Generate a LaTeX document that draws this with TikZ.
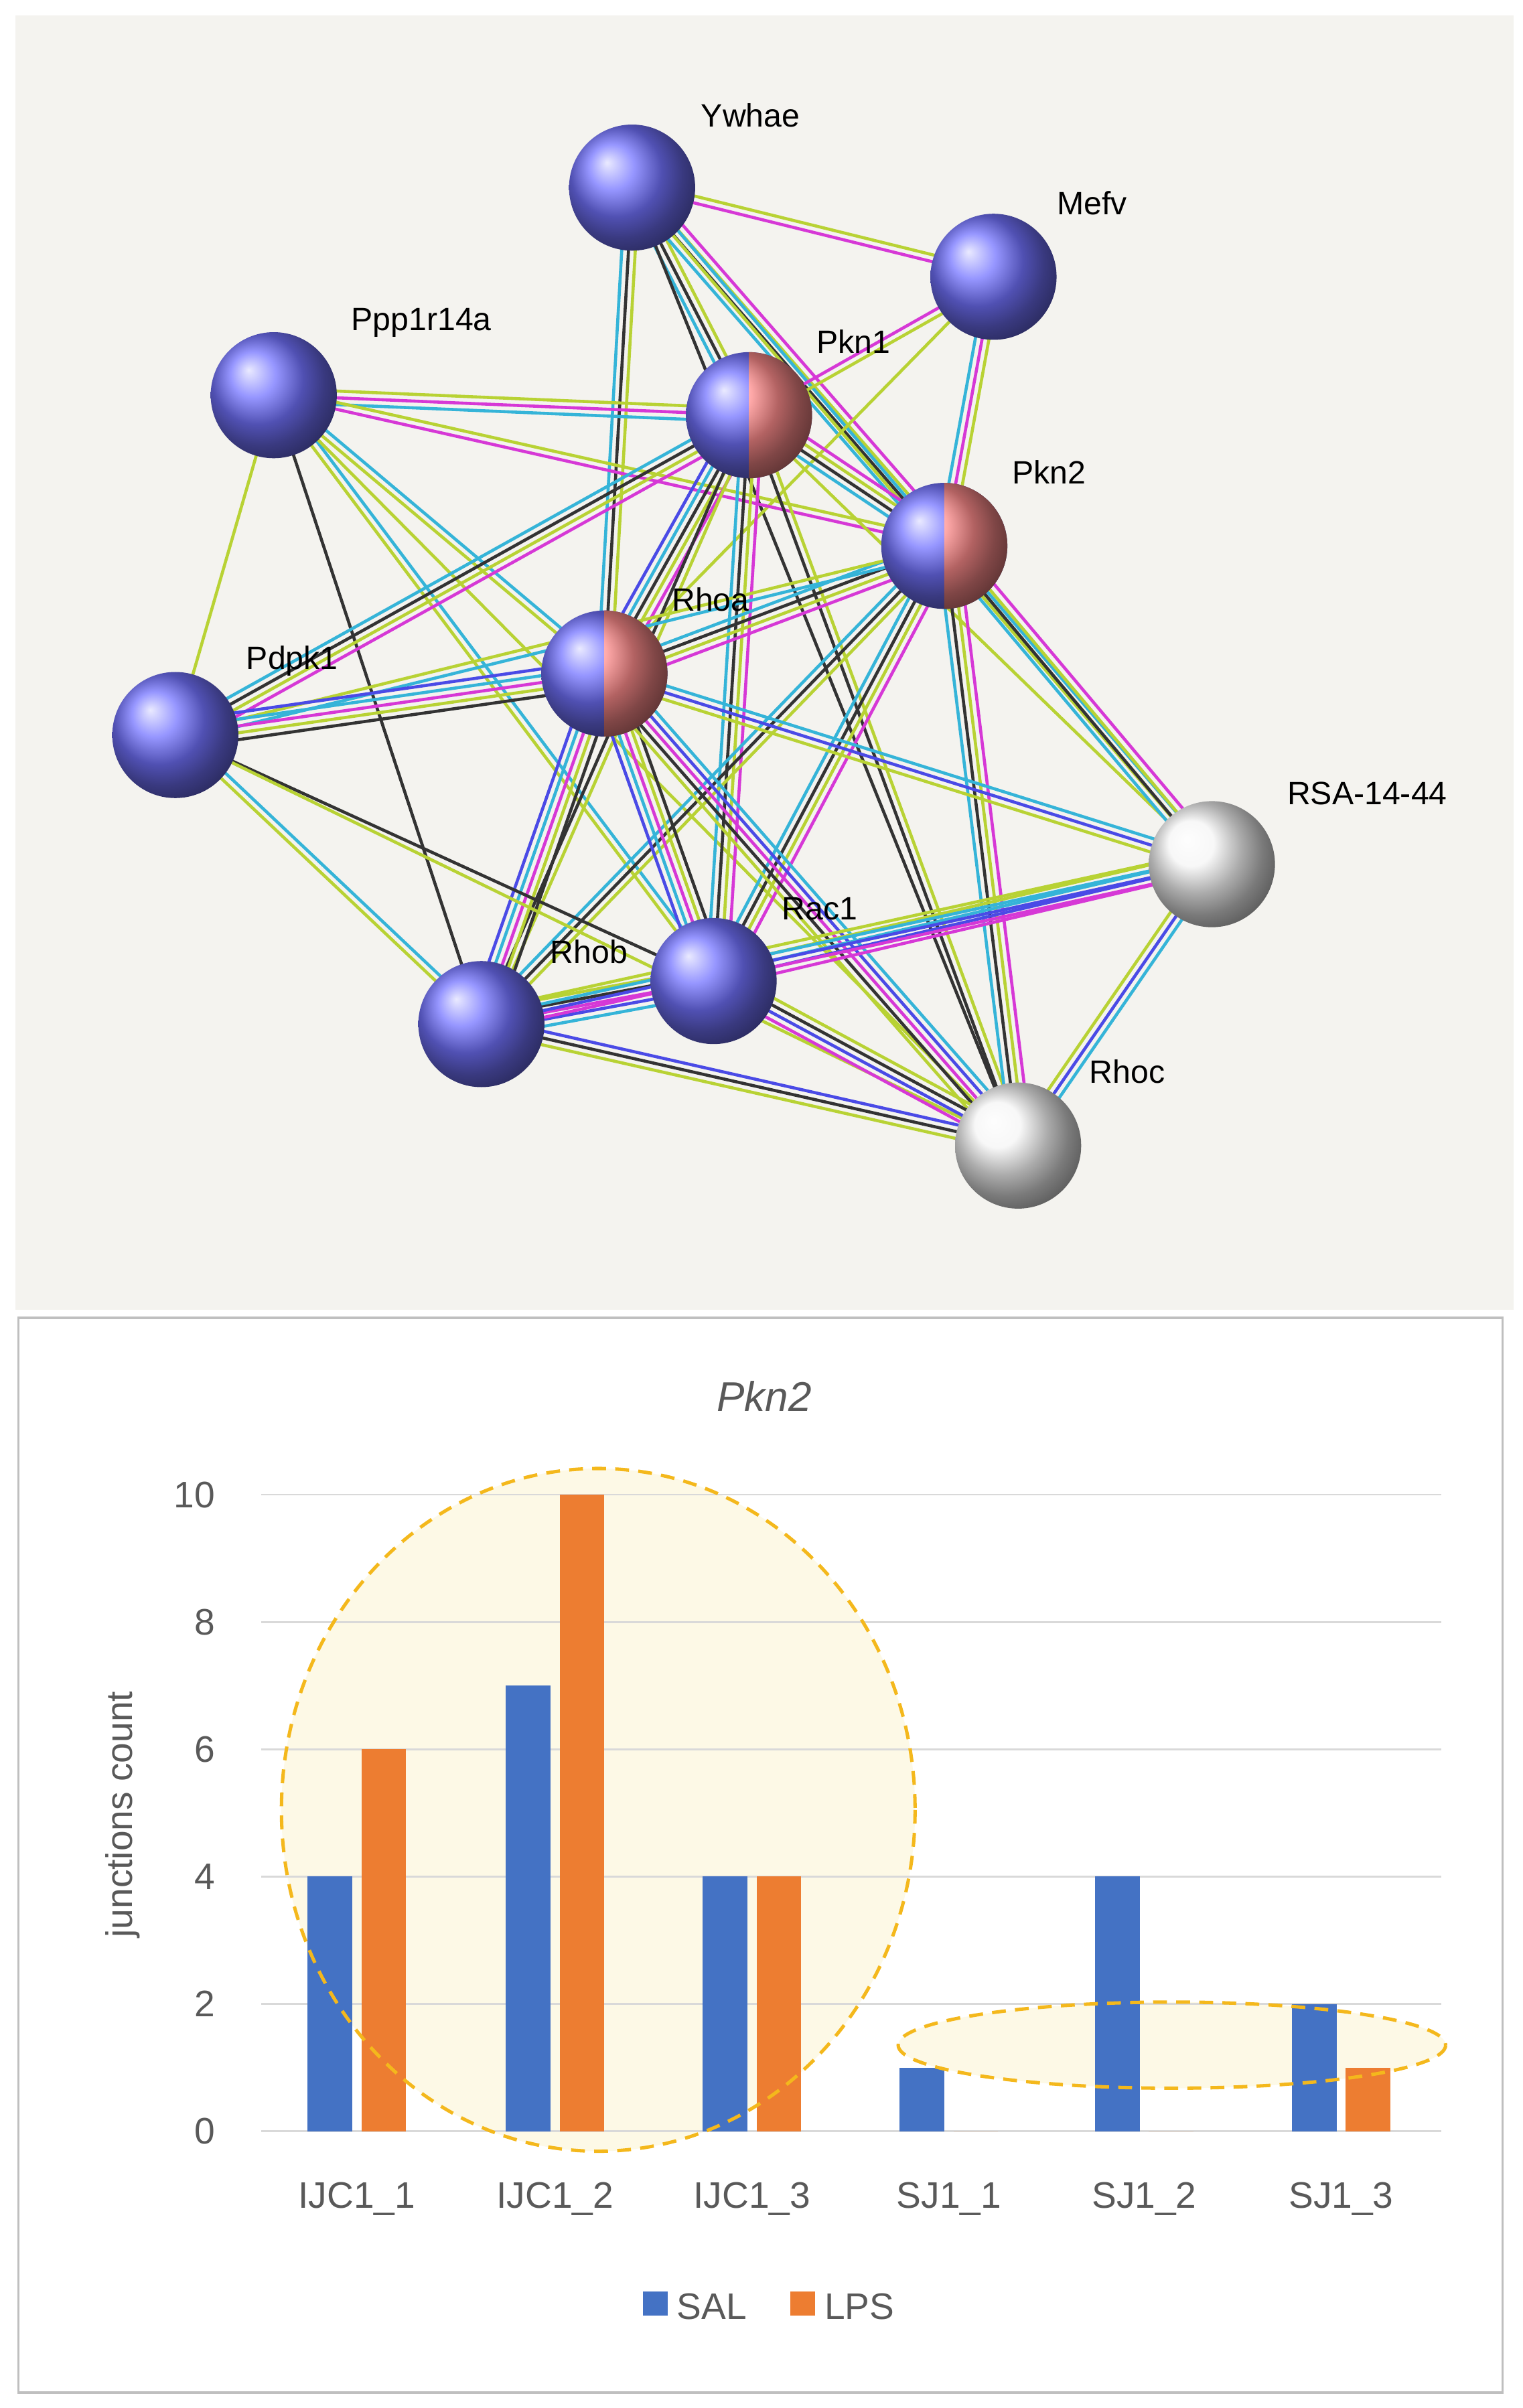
\documentclass[tikz,border=0pt]{standalone}
\usepackage{fontspec}
\setmainfont{Liberation Sans}
\usetikzlibrary{calc, positioning}
\definecolor{ctm}{HTML}{B8D234}
\definecolor{cdb}{HTML}{35B4D8}
\definecolor{cex}{HTML}{D638D6}
\definecolor{cco}{HTML}{333333}
\definecolor{cnb}{HTML}{4A4AE6}
\definecolor{panelgray}{HTML}{F4F3EF}
\definecolor{salblue}{HTML}{4472C4}
\definecolor{lpsorange}{HTML}{ED7D31}
\definecolor{ringgold}{HTML}{F4B81C}
\definecolor{ringfill}{HTML}{FDF9E6}
\definecolor{axisgray}{HTML}{595959}
\newcommand\linkp[3]{%
  \foreach \c [count=\i] in {#3} {
    \pgfmathsetmacro\off{(mod(\i,2)==0 ? 1 : -1)*floor(\i/2)*4.4}
    \draw[line width=2pt, \c] ($(#1)!\off pt!90:(#2)$) -- ($(#2)!-\off pt!90:(#1)$);
  }}
\newcommand\sphere[3]{% name, position, colour
  \shade[ball color=#3] (#2) circle[radius=41];}
\newcommand\halfred[1]{%
  \begin{scope}
    \clip (#1) ++(0,-45) rectangle ++(50,90);
    \shade[ball color=red!45!white] (#1) circle[radius=41];
  \end{scope}}
\begin{document}
\begin{tikzpicture}[x=1pt, y=-1pt,
    lbl/.style={font=\fontsize{21}{24}\selectfont, inner sep=0pt},
    tick/.style={font=\fontsize{24}{28}\selectfont, text=axisgray, inner sep=0pt},
    grid/.style={line width=1.2pt, draw=black!15}
    ]
\useasboundingbox (0,0) rectangle (990,1566);
\fill[white] (0,0) rectangle (990,1566);
\fill[panelgray] (10,10) rectangle (984,852);

% network nodes
\coordinate (ywhae) at (411,122);
\coordinate (mefv) at (646,180);
\coordinate (ppp) at (178,257);
\coordinate (pkn1) at (487,270);
\coordinate (pkn2) at (614,355);
\coordinate (rhoa) at (393,438);
\coordinate (pdpk1) at (114,478);
\coordinate (rsa) at (788,562);
\coordinate (rac1) at (464,638);
\coordinate (rhob) at (313,666);
\coordinate (rhoc) at (662,745);

% links
\linkp{ywhae}{mefv}{cex,ctm}
\linkp{ywhae}{pkn1}{cco,ctm,cdb}
\linkp{ywhae}{pkn2}{cco,ctm,cdb,cex}
\linkp{ywhae}{rhoa}{cco,ctm,cdb}
\linkp{ywhae}{rsa}{ctm,cdb}
\linkp{ywhae}{rhoc}{cco}
\linkp{mefv}{pkn1}{cex,ctm}
\linkp{mefv}{pkn2}{cex,ctm,cdb}
\linkp{mefv}{rhoa}{ctm}
\linkp{ppp}{pkn1}{cex,ctm,cdb}
\linkp{ppp}{pkn2}{cex,ctm}
\linkp{ppp}{pdpk1}{ctm}
\linkp{ppp}{rhob}{cco}
\linkp{ppp}{rhoa}{ctm,cdb}
\linkp{ppp}{rac1}{ctm,cdb}
\linkp{ppp}{rhoc}{ctm}
\linkp{pkn1}{pkn2}{cco,ctm,cdb,cex}
\linkp{pkn1}{rhoa}{cco,ctm,cdb,cex,cnb}
\linkp{pkn1}{pdpk1}{cco,ctm,cdb,cex}
\linkp{pkn1}{rac1}{cco,ctm,cdb,cex}
\linkp{pkn1}{rhob}{cco,ctm}
\linkp{pkn1}{rsa}{ctm}
\linkp{pkn1}{rhoc}{cco,ctm}
\linkp{pkn2}{rhoa}{cco,ctm,cdb,cex}
\linkp{pkn2}{pdpk1}{ctm,cdb}
\linkp{pkn2}{rsa}{cco,ctm,cdb,cex}
\linkp{pkn2}{rhoc}{cco,ctm,cdb,cex}
\linkp{pkn2}{rac1}{cco,ctm,cdb,cex}
\linkp{pkn2}{rhob}{cco,ctm,cdb}
\linkp{rhoa}{pdpk1}{cex,ctm,cdb,cco,cnb}
\linkp{rhoa}{rac1}{cex,ctm,cdb,cco,cnb}
\linkp{rhoa}{rhob}{cex,ctm,cdb,cco,cnb}
\linkp{rhoa}{rsa}{cnb,cdb,ctm}
\linkp{rhoa}{rhoc}{cex,cnb,cco,cdb,ctm}
\linkp{pdpk1}{rhob}{ctm,cdb}
\linkp{pdpk1}{rac1}{cco}
\linkp{pdpk1}{rhoc}{ctm}
\linkp{rac1}{rhob}{cex,cnb,cco,cdb,ctm}
\linkp{rac1}{rsa}{cnb,cdb,cex,ctm}
\linkp{rac1}{rhoc}{cnb,cco,cex,ctm}
\linkp{rhob}{rsa}{cnb,cdb,cex,ctm}
\linkp{rhob}{rhoc}{cco,cnb,ctm}
\linkp{rsa}{rhoc}{cnb,cdb,ctm}

% spheres
\foreach \n in {ywhae,mefv,ppp,pkn1,pkn2,rhoa,pdpk1,rac1,rhob}
  \sphere{\n}{\n}{blue!55!white};
\halfred{pkn1}
\halfred{pkn2}
\halfred{rhoa}
\sphere{rsa}{rsa}{white!96!black}
\sphere{rhoc}{rhoc}{white!96!black}

\node[lbl] (lywhae) at (488,75) {Ywhae};
\node[lbl] (lmefv) at (710,132) {Mefv};
\node[lbl] (lppp) at (274,210) {Ppp1r14a};
\node[lbl] (lpkn1) at (555,222) {Pkn1};
\node[lbl] (lpkn2) at (682,307) {Pkn2};
\node[lbl] (lrhoa) at (462,390) {Rhoa};
\node[lbl] (lpdpk1) at (190,430) {Pdpk1};
\node[lbl] (lrsa) at (889,516) {RSA-14-44};
\node[lbl] (lrac1) at (533,591) {Rac1};
\node[lbl] (lrhob) at (383,619) {Rhob};
\node[lbl] (lrhoc) at (733,697) {Rhoc};

% chart
\draw[line width=1.5pt, black!25] (12,857) rectangle (977,1556);
\fill[ringfill] (389,1177) ellipse[x radius=206, y radius=222];
\fill[ringfill] (762,1330) ellipse[x radius=178, y radius=28];
\foreach \v in {0,2,...,10} {
  \draw[grid] (170,{1386-41.4*\v}) -- (937,{1386-41.4*\v});
  \node[tick, anchor=east] (t\v) at (140,{1386-41.4*\v}) {\v};
}
\foreach \c/\s/\l/\name [count=\k] in {232/4/6/IJC1\_1, 361/7/10/IJC1\_2, 489/4/4/IJC1\_3, 617/1/0/SJ1\_1, 744/4/0/SJ1\_2, 872/2/1/SJ1\_3} {
  \fill[salblue] (\c-32,1386) rectangle (\c-3,{1386-41.4*\s});
  \fill[lpsorange] (\c+3,1386) rectangle (\c+32,{1386-41.4*\l});
  \node[tick] (cat\k) at (\c,1430) {\name};
}
\draw[ringgold, line width=2.2pt, dash pattern=on 9pt off 6pt] (389,1177) ellipse[x radius=206, y radius=222];
\draw[ringgold, line width=2.2pt, dash pattern=on 9pt off 6pt] (762,1330) ellipse[x radius=178, y radius=28];
\node[tick, font=\fontsize{27}{30}\selectfont\itshape] (title) at (497,908) {Pkn2};
\node[tick, rotate=90] (ylab) at (80,1180) {junctions count};
\fill[salblue] (418,1490) rectangle (434,1506);
\node[tick, anchor=west] (lsal) at (440,1500) {SAL};
\fill[lpsorange] (514,1490) rectangle (530,1506);
\node[tick, anchor=west] (llps) at (536,1500) {LPS};
\end{tikzpicture}
\end{document}
